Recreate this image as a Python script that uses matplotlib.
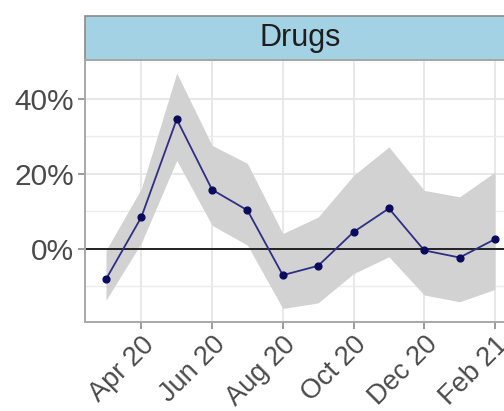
import matplotlib.pyplot as plt
from matplotlib.patches import Rectangle

# Monthly change, Mar 2020 - Feb 2021, with confidence band (percent)
months = ['Mar 20', 'Apr 20', 'May 20', 'Jun 20', 'Jul 20', 'Aug 20',
          'Sep 20', 'Oct 20', 'Nov 20', 'Dec 20', 'Jan 21', 'Feb 21']
change = [-8.2, 8.4, 34.5, 15.7, 10.2, -7.1, -4.6, 4.4, 10.7, -0.5, -2.4, 2.5]
upper = [-0.5, 16.0, 46.8, 27.5, 22.7, 4.0, 8.4, 19.5, 27.1, 15.5, 13.8, 20.4]
lower = [-13.8, 1.5, 23.5, 6.2, 0.9, -16.0, -14.5, -6.7, -2.2, -12.4, -14.2, -10.9]
tick_labels = ['Apr 20', 'Jun 20', 'Aug 20', 'Oct 20', 'Dec 20', 'Feb 21']
panel_title = 'Drugs'

plt.rcParams['font.family'] = ['Liberation Sans', 'DejaVu Sans']

W, H = 504, 411
fig = plt.figure(figsize=(W / 100, H / 100), dpi=100)
# panel spans past the right edge of the canvas
left_px, right_px, top_px, bottom_px = 85, 516, 60, 322
ax = fig.add_axes([left_px / W, 1 - bottom_px / H,
                   (right_px - left_px) / W, (bottom_px - top_px) / H])

x = list(range(len(months)))
ax.fill_between(x, lower, upper, color='#d2d2d2', lw=0, zorder=1)
ax.axhline(0, color='#222222', lw=1.4, zorder=2)
ax.plot(x, change, color='#2e2e84', lw=1.3, zorder=3)
ax.scatter(x, change, s=24, color='#0b0b5e', zorder=4)

ax.set_xlim(-0.594, 11.594)
ax.set_ylim(-19.6, 50.3)

ax.set_xticks([months.index(m) for m in tick_labels])
ax.set_xticklabels(tick_labels, rotation=45, ha='right', va='top',
                   rotation_mode='anchor')
ax.set_yticks([0, 20, 40])
ax.set_yticklabels(['0%', '20%', '40%'])
ax.set_yticks([-10, 10, 30], minor=True)

ax.grid(True, which='major', color='#e6e6e6', lw=1.3, zorder=0)
ax.grid(True, which='minor', axis='y', color='#ececec', lw=1.0, zorder=0)
ax.set_axisbelow(True)
ax.tick_params(which='major', length=5, width=1.2, color='#8a8a8a',
               labelsize=21.5, labelcolor='#4a4a4a', pad=3)
ax.tick_params(axis='x', which='major', labelsize=19.5, pad=2)
ax.tick_params(which='minor', length=0)
for s in ax.spines.values():
    s.set_color('#a8a8a8')
    s.set_linewidth(1.4)

# facet strip above the panel
strip_h = 44 / (bottom_px - top_px)
ax.add_patch(Rectangle((0, 1), 1, strip_h, transform=ax.transAxes,
                       facecolor='#a3d2e4', edgecolor='#8a8a8a', lw=1.2,
                       clip_on=False))
ax.text(0.5, 1 + strip_h / 2, panel_title, transform=ax.transAxes,
        ha='center', va='center', fontsize=22, color='#1e1e1e')

fig.savefig('out.png', dpi=100)
